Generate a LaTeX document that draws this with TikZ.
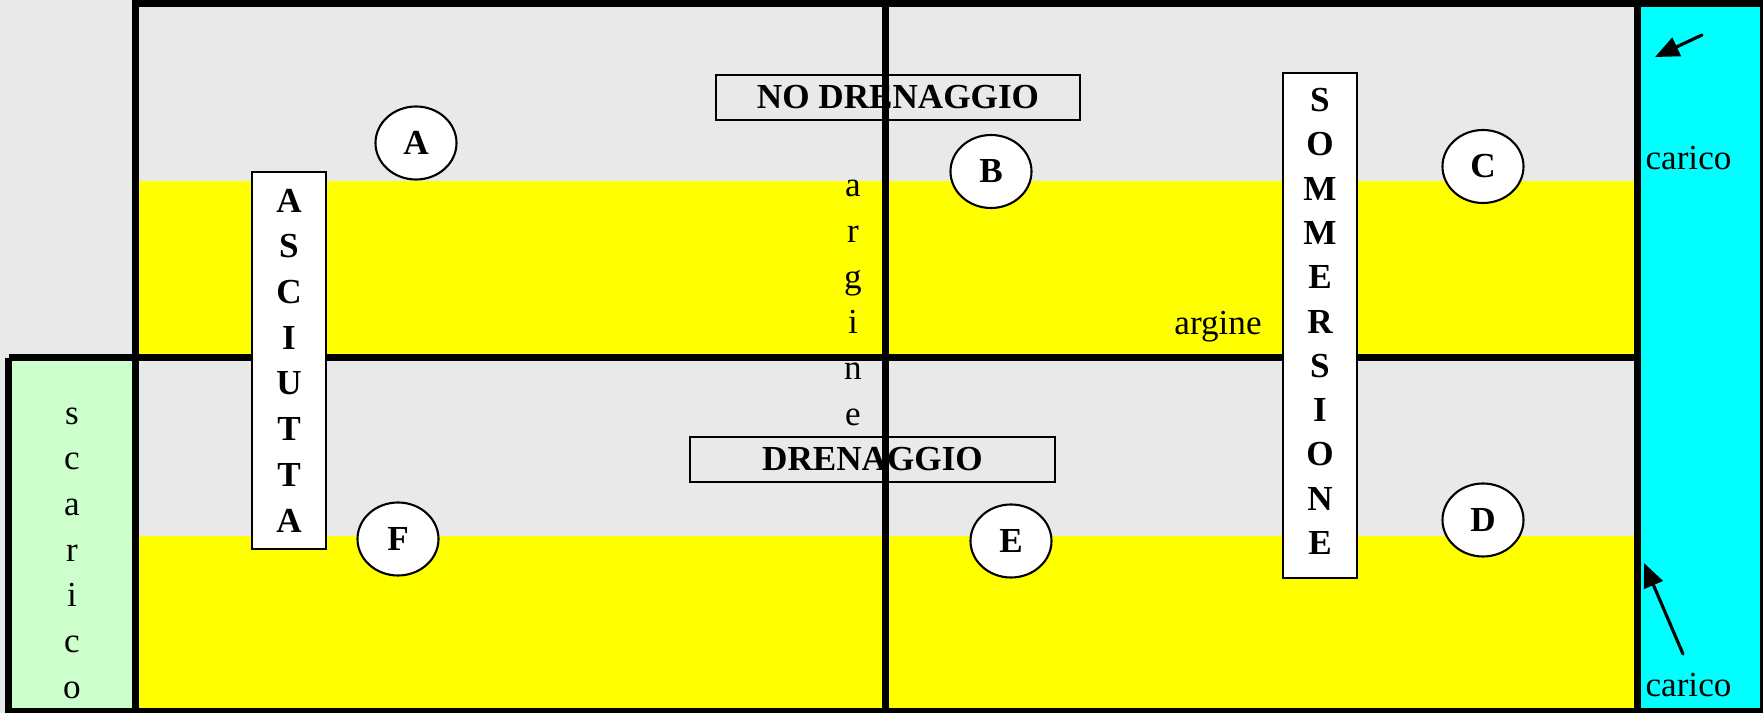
\documentclass[tikz,border=0pt]{standalone}
\usepackage{fontspec}
\setmainfont{Liberation Serif}
\usetikzlibrary{arrows.meta,positioning,shapes.geometric}

\definecolor{granite}{HTML}{E9E9E9}
\definecolor{paddy}{HTML}{FFFF00}
\definecolor{inflow}{HTML}{00FFFF}
\definecolor{outflow}{HTML}{CCFFCC}

\begin{document}
\fontsize{10}{13}\selectfont
\begin{tikzpicture}[x=1mm,y=1mm,
				bund/.style={line width=0.7mm},
				site/.style={ellipse,draw,line width=0.6pt,fill=white,minimum width=8.1mm,minimum height=7.3mm,inner sep=0pt,font=\bfseries},
				tag/.style={draw,line width=0.5pt,minimum width=36.4mm,minimum height=4.5mm,inner sep=0pt,font=\bfseries},
				column/.style={draw,line width=0.5pt,fill=white,minimum width=7.4mm,inner sep=0pt,align=center},
				letters/.style={align=center,inner sep=0pt},
				flow/.style={line width=0.9pt,line cap=round,-{Triangle[length=2.4mm,width=2mm]}}]
				 %\draw[color=gray,step=1mm, help lines,opacity=0.3] (0,0) grid (176.3,71.3); %help grids
				 \useasboundingbox (0,0) rectangle (176.3,71.3);
				 % ground and water
				 \fill[granite] (0,0) rectangle (176.3,71.3);
				 \fill[inflow] (163.7,0) rectangle (176.3,71.3);
				 \fill[outflow] (0.85,0.15) rectangle (13.5,35.5);
				 \fill[paddy] (13.5,35.5) rectangle (163.7,53.2);
				 \fill[paddy] (13.5,0.15) rectangle (163.7,17.7);
				 % labels of the two halves
				 \node[tag] (nodren) at (89.8,61.55) {NO DRENAGGIO};
				 \node[tag,minimum width=36.5mm] (dren) at (87.25,25.35) {DRENAGGIO};
				 \coordinate (S1) at (0.85,35.5);
				 \coordinate (S2) at (0.85,0.15);
				 \coordinate (R1) at (176.35,0.15);
				 \coordinate (R2) at (176.35,70.95);
				 \coordinate (L1) at (13.5,70.95);
				 \coordinate (L2) at (13.5,0.15);
				 \coordinate (M1) at (163.7,35.5);
				 \coordinate (V1) at (88.5,70.95);
				 \coordinate (V2) at (88.5,0.15);
				 \coordinate (K1) at (163.7,70.95);
				 \coordinate (K2) at (163.7,0.15);
				 % lines...
				 \draw[bund] (S1)--(S2)--(R1)--(R2)--(L1)--(L2);
				 \draw[bund] (S1)--(M1);
				 \draw[bund] (V1)--(V2);
				 \draw[bund] (K1)--(K2);
				 % the two columns
				 \node[column,minimum height=37.7mm,font=\bfseries] (asc) at (28.9,35.25) {A\\S\\C\\I\\U\\T\\T\\A};
				 \node[column,minimum height=50.5mm,font={\bfseries\fontsize{10}{12.6}\selectfont}] (somm) at (132.0,38.75) {S\\O\\M\\M\\E\\R\\S\\I\\O\\N\\E\rule[-0.8mm]{0pt}{0pt}};
				 % Drawing the plots
				 \node[site] (A) at (41.6,57.0) {A};
				 \node[site] (B) at (99.1,54.15) {B};
				 \node[site] (C) at (148.3,54.65) {C};
				 \node[site] (D) at (148.3,19.3) {D};
				 \node[site] (E) at (101.1,17.2) {E};
				 \node[site] (F) at (39.8,17.4) {F};
				 % texts
				 \node[letters] (scar) at (7.2,16.0) {s\\c\\a\\r\\i\\c\\o};
				 \node[letters] (argv) at (85.3,41.0) {a\\r\\g\\i\\n\\e};
				 \node[anchor=base,inner sep=0pt] (argh) at (121.8,37.8) {argine};
				 \node[anchor=base,inner sep=0pt] (car1) at (168.85,54.3) {carico};
				 \node[anchor=base,inner sep=0pt] (car2) at (168.85,1.6) {carico};
				 % inflow arrows
				 \coordinate (T1) at (170.2,67.8);
				 \coordinate (T2) at (165.5,65.6);
				 \coordinate (U1) at (168.3,5.9);
				 \coordinate (U2) at (164.4,15.0);
				 \draw[flow] (T1)--(T2);
				 \draw[flow] (U1)--(U2);
\end{tikzpicture}
\end{document}
